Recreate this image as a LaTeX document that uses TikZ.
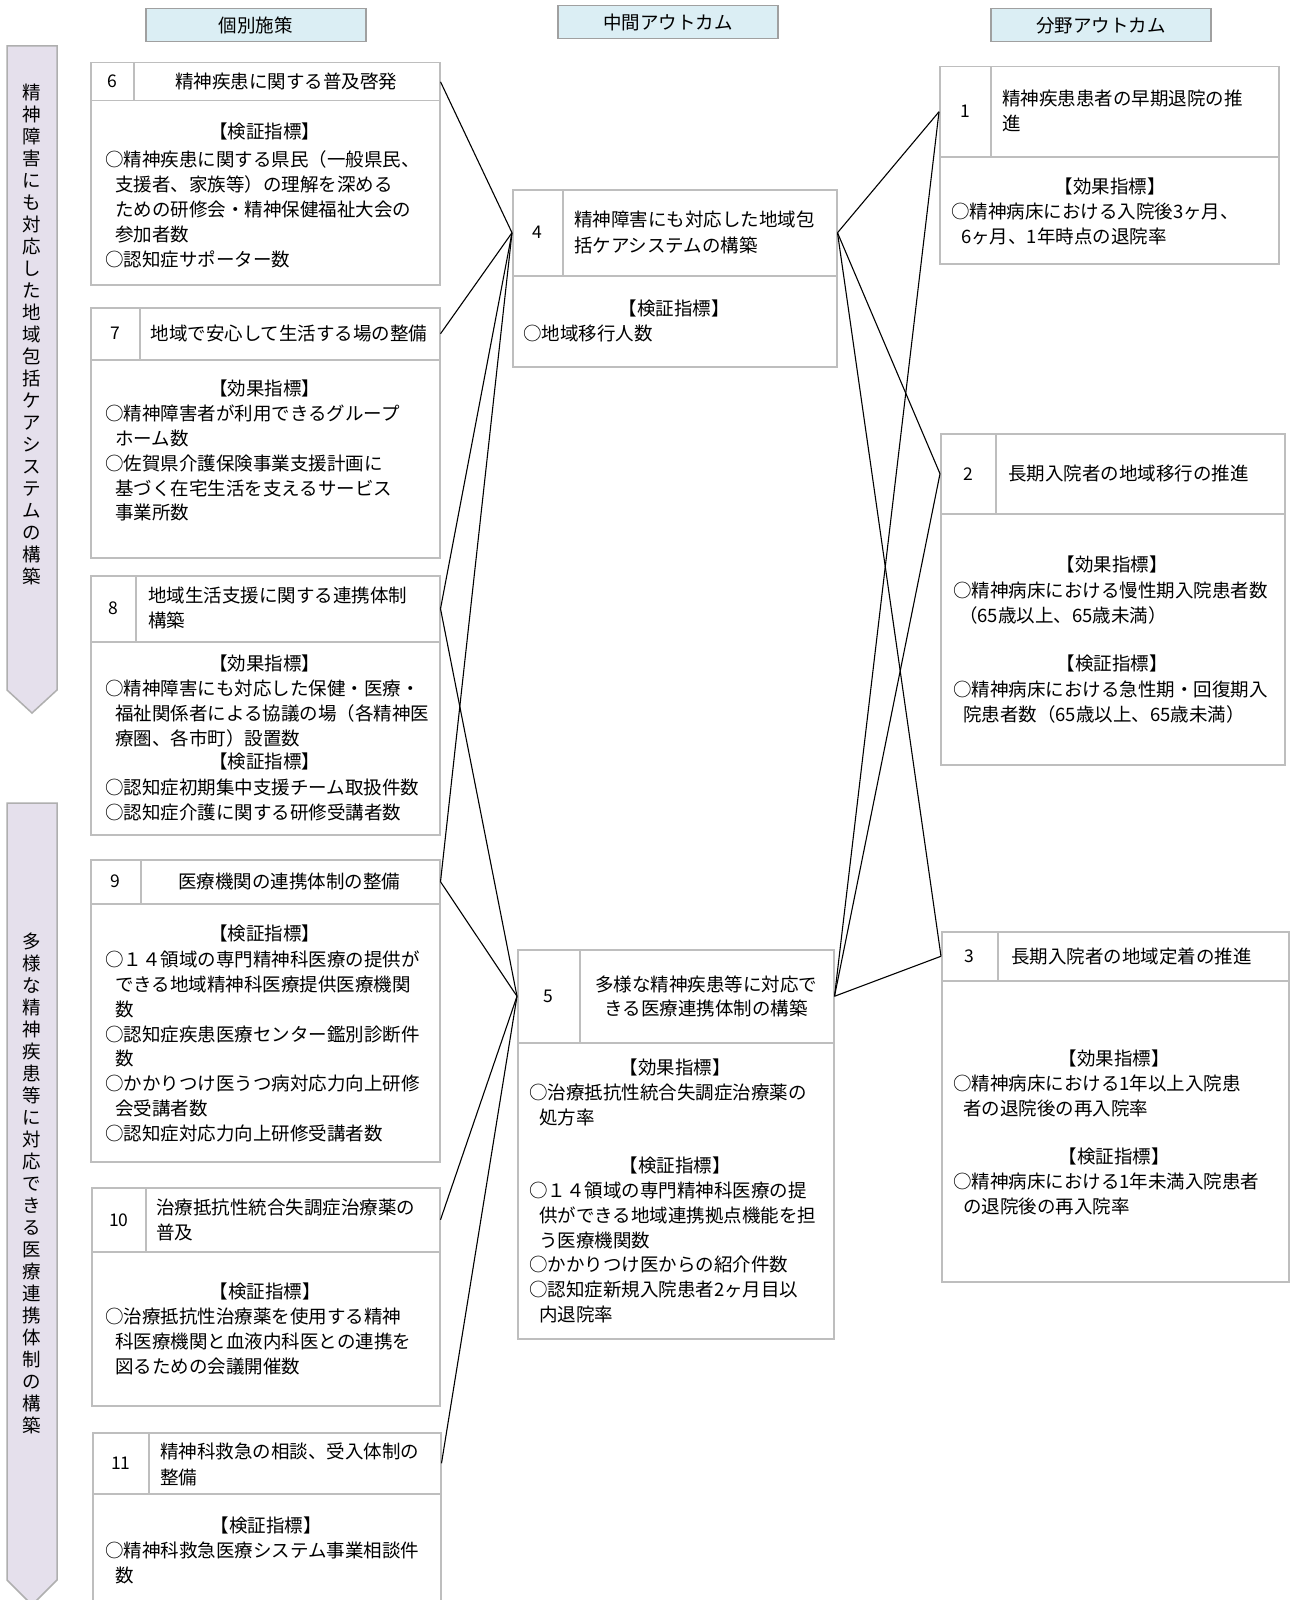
\documentclass[tikz,border=0pt]{standalone}
\usepackage{fontspec}
\setmainfont{Noto Sans CJK JP}
\definecolor{boxline}{RGB}{190,190,190}
\definecolor{hdrfill}{RGB}{219,238,244}
\definecolor{hdrline}{RGB}{160,160,160}
\definecolor{sidefill}{RGB}{229,224,236}
\definecolor{sideline}{RGB}{175,175,175}
\begin{document}
\begin{tikzpicture}[x=1pt,y=-1pt,
  cell/.style={draw=boxline, line width=1.5pt, inner sep=0pt, anchor=north west},
  numtxt/.style={font=\fontsize{17.5}{19}\selectfont},
  ttl/.style={inner sep=0pt, align=left, font=\fontsize{18.5}{25.5}\selectfont},
  ttlc/.style={inner sep=0pt, align=center, font=\fontsize{18.5}{23.5}\selectfont},
  bodytxt/.style={inner sep=0pt, anchor=north west, align=left, font=\fontsize{18.5}{24.9}\selectfont},
  headtxt/.style={inner sep=0pt, font=\fontsize{18.5}{24.9}\selectfont},
  coltitle/.style={draw=hdrline, fill=hdrfill, line width=1.5pt, inner sep=0pt, minimum width=220, minimum height=33, anchor=north west, font=\fontsize{18.5}{22}\selectfont},
  sidearrow/.style={draw=sideline, fill=sidefill, line width=1.5pt},
  vtext/.style={inner sep=0pt, align=center, font=\fontsize{18.5}{22}\selectfont},
  link/.style={draw=black, line width=1.1pt}
]
\useasboundingbox (0,0) rectangle (1290,1600);
\fill[white] (0,0) rectangle (1290,1600);
\clip (0,0) rectangle (1290,1600);

% column titles
\node[coltitle] (c1) at (145,8) {個別施策};
\node[coltitle] (c2) at (557,5) {中間アウトカム};
\node[coltitle] (c3) at (990,8) {分野アウトカム};

% side arrows
\path[sidearrow] (7,46) -- (57,46) -- (57,690) -- (32,713) -- (7,690) -- cycle;
\node[vtext] (v1) at (32,334) {精\\神\\障\\害\\に\\も\\対\\応\\し\\た\\地\\域\\包\\括\\ケ\\ア\\シ\\ス\\テ\\ム\\の\\構\\築};
\path[sidearrow] (7,803) -- (57,803) -- (57,1580) -- (32,1605) -- (7,1580) -- cycle;
\node[vtext] (v2) at (32,1183.5) {多\\様\\な\\精\\神\\疾\\患\\等\\に\\対\\応\\で\\き\\る\\医\\療\\連\\携\\体\\制\\の\\構\\築};

% ---------- Box 6
\node[cell, minimum width=349, minimum height=38] (h6) at (90,62) {};
\node[cell, minimum width=43, minimum height=38, numtxt] (n6) at (90,62) {6};
\node[cell, minimum width=349, minimum height=184] (b6) at (90,100) {};
\node[ttlc] (t6) at (286,81) {精神疾患に関する普及啓発};
\node[headtxt] (k6) at (264.5,131) {【検証指標】};
\node[bodytxt] (l6) at (105,150.5) {○精神疾患に関する県民（一般県民、\\
\hspace*{10pt}支援者、家族等）の理解を深める\\
\hspace*{10pt}ための研修会・精神保健福祉大会の\\
\hspace*{10pt}参加者数\\
○認知症サポーター数};

% ---------- Box 7
\node[cell, minimum width=349, minimum height=52] (h7) at (90,307) {};
\node[cell, minimum width=49, minimum height=52, numtxt] (n7) at (90,307) {7};
\node[cell, minimum width=349, minimum height=198] (b7) at (90,359) {};
\node[ttlc] (t7) at (289,333) {地域で安心して生活する場の整備};
\node[headtxt] (k7) at (264.5,388) {【効果指標】};
\node[bodytxt] (l7) at (105,404.5) {○精神障害者が利用できるグループ\\
\hspace*{10pt}ホーム数\\
○佐賀県介護保険事業支援計画に\\
\hspace*{10pt}基づく在宅生活を支えるサービス\\
\hspace*{10pt}事業所数};

% ---------- Box 8
\node[cell, minimum width=349, minimum height=66] (h8) at (90,575) {};
\node[cell, minimum width=45, minimum height=66, numtxt] (n8) at (90,575) {8};
\node[cell, minimum width=349, minimum height=193] (b8) at (90,641) {};
\node[ttl, anchor=west] (t8) at (148,608) {地域生活支援に関する連携体制\\構築};
\node[headtxt] (k8a) at (264.5,663) {【効果指標】};
\node[bodytxt] (l8a) at (105,679.5) {○精神障害にも対応した保健・医療・\\
\hspace*{10pt}福祉関係者による協議の場（各精神医\\
\hspace*{10pt}療圏、各市町）設置数};
\node[headtxt] (k8b) at (264.5,761) {【検証指標】};
\node[bodytxt] (l8b) at (105,778.5) {○認知症初期集中支援チーム取扱件数\\
○認知症介護に関する研修受講者数};

% ---------- Box 9
\node[cell, minimum width=349, minimum height=44] (h9) at (90,859) {};
\node[cell, minimum width=50, minimum height=44, numtxt] (n9) at (90,859) {9};
\node[cell, minimum width=349, minimum height=258] (b9) at (90,903) {};
\node[ttlc] (t9) at (289,881) {医療機関の連携体制の整備};
\node[headtxt] (k9) at (264.5,933) {【検証指標】};
\node[bodytxt] (l9) at (105,950.5) {○１４領域の専門精神科医療の提供が\\
\hspace*{10pt}できる地域精神科医療提供医療機関\\
\hspace*{10pt}数\\
○認知症疾患医療センター鑑別診断件\\
\hspace*{10pt}数\\
○かかりつけ医うつ病対応力向上研修\\
\hspace*{10pt}会受講者数\\
○認知症対応力向上研修受講者数};

% ---------- Box 10
\node[cell, minimum width=348, minimum height=64] (h10) at (91,1187) {};
\node[cell, minimum width=54, minimum height=64, numtxt] (n10) at (91,1187) {10};
\node[cell, minimum width=348, minimum height=154] (b10) at (91,1251) {};
\node[ttl, anchor=west] (t10) at (156,1220) {治療抵抗性統合失調症治療薬の\\普及};
\node[headtxt] (k10) at (265,1291) {【検証指標】};
\node[bodytxt] (l10) at (105,1307.5) {○治療抵抗性治療薬を使用する精神\\
\hspace*{10pt}科医療機関と血液内科医との連携を\\
\hspace*{10pt}図るための会議開催数};

% ---------- Box 11
\node[cell, minimum width=348, minimum height=61] (h11) at (92,1432) {};
\node[cell, minimum width=56, minimum height=61, numtxt] (n11) at (92,1432) {11};
\node[cell, minimum width=348, minimum height=130] (b11) at (92,1493) {};
\node[ttl, anchor=west] (t11) at (160,1464.5) {精神科救急の相談、受入体制の\\整備};
\node[headtxt] (k11) at (266,1525) {【検証指標】};
\node[bodytxt] (l11) at (105,1541.5) {○精神科救急医療システム事業相談件\\
\hspace*{10pt}数};

% ---------- Box 4
\node[cell, minimum width=324, minimum height=86] (h4) at (512,189) {};
\node[cell, minimum width=50, minimum height=86, numtxt] (n4) at (512,189) {4};
\node[cell, minimum width=324, minimum height=91] (b4) at (512,275) {};
\node[ttl, anchor=west] (t4) at (574,232.5) {精神障害にも対応した地域包\\括ケアシステムの構築};
\node[headtxt] (k4) at (674,308) {【検証指標】};
\node[bodytxt] (l4) at (523,324.5) {○地域移行人数};

% ---------- Box 5
\node[cell, minimum width=316, minimum height=93] (h5) at (517,949) {};
\node[cell, minimum width=62, minimum height=93, numtxt] (n5) at (517,949) {5};
\node[cell, minimum width=316, minimum height=296] (b5) at (517,1042) {};
\node[ttlc] (t5) at (706,996.5) {多様な精神疾患等に対応で\\きる医療連携体制の構築};
\node[headtxt] (k5a) at (675,1067) {【効果指標】};
\node[bodytxt] (l5a) at (529,1083.5) {○治療抵抗性統合失調症治療薬の\\
\hspace*{10pt}処方率};
\node[headtxt] (k5b) at (675,1165) {【検証指標】};
\node[bodytxt] (l5b) at (529,1181.5) {○１４領域の専門精神科医療の提\\
\hspace*{10pt}供ができる地域連携拠点機能を担\\
\hspace*{10pt}う医療機関数\\
○かかりつけ医からの紹介件数\\
○認知症新規入院患者2ヶ月目以\\
\hspace*{10pt}内退院率};

% ---------- Box 1
\node[cell, minimum width=339, minimum height=90] (h1) at (939,66) {};
\node[cell, minimum width=51, minimum height=90, numtxt] (n1) at (939,66) {1};
\node[cell, minimum width=339, minimum height=107] (b1) at (939,156) {};
\node[ttl, anchor=west] (t1) at (1002,111) {精神疾患患者の早期退院の推\\進};
\node[headtxt] (k1) at (1110,186) {【効果指標】};
\node[bodytxt] (l1) at (951,202.5) {○精神病床における入院後3ヶ月、\\
\hspace*{10pt}6ヶ月、1年時点の退院率};

% ---------- Box 2
\node[cell, minimum width=344, minimum height=80] (h2) at (940,433) {};
\node[cell, minimum width=55, minimum height=80, numtxt] (n2) at (940,433) {2};
\node[cell, minimum width=344, minimum height=251] (b2) at (940,513) {};
\node[ttl, anchor=west] (t2) at (1008,473) {長期入院者の地域移行の推進};
\node[headtxt] (k2a) at (1112,564) {【効果指標】};
\node[bodytxt] (l2a) at (953,581.5) {○精神病床における慢性期入院患者数\\
\hspace*{6pt}（65歳以上、65歳未満）};
\node[headtxt] (k2b) at (1112,663) {【検証指標】};
\node[bodytxt] (l2b) at (953,680.5) {○精神病床における急性期・回復期入\\
\hspace*{10pt}院患者数（65歳以上、65歳未満）};

% ---------- Box 3
\node[cell, minimum width=347, minimum height=49] (h3) at (941,931) {};
\node[cell, minimum width=56, minimum height=49, numtxt] (n3) at (941,931) {3};
\node[cell, minimum width=347, minimum height=301] (b3) at (941,980) {};
\node[ttl, anchor=west] (t3) at (1011,956) {長期入院者の地域定着の推進};
\node[headtxt] (k3a) at (1114,1058) {【効果指標】};
\node[bodytxt] (l3a) at (953,1074.5) {○精神病床における1年以上入院患\\
\hspace*{10pt}者の退院後の再入院率};
\node[headtxt] (k3b) at (1114,1156) {【検証指標】};
\node[bodytxt] (l3b) at (953,1172.5) {○精神病床における1年未満入院患者\\
\hspace*{10pt}の退院後の再入院率};

% ---------- connectors
\draw[link] (h6.east) -- (h4.west);
\draw[link] (h7.east) -- (h4.west);
\draw[link] (h8.east) -- (h4.west);
\draw[link] (h9.east) -- (h4.west);
\draw[link] (h8.east) -- (h5.west);
\draw[link] (h9.east) -- (h5.west);
\draw[link] (h10.east) -- (h5.west);
\draw[link] (h11.east) -- (h5.west);
\draw[link] (h4.east) -- (h1.west);
\draw[link] (h4.east) -- (h2.west);
\draw[link] (h4.east) -- (h3.west);
\draw[link] (h5.east) -- (h1.west);
\draw[link] (h5.east) -- (h2.west);
\draw[link] (h5.east) -- (h3.west);
\end{tikzpicture}
\end{document}
